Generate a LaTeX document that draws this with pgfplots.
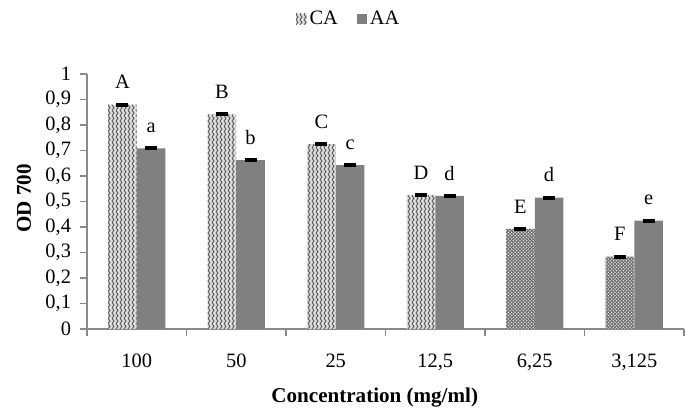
\documentclass[border=0pt]{standalone}
\usepackage{fontspec}
\setmainfont{Liberation Serif}
\usepackage{pgfplots}
\usepackage{pgfplotstable}
\pgfplotsset{compat=1.18}
\usetikzlibrary{patterns}

\definecolor{axisgray}{RGB}{137,137,137}
\definecolor{aagray}{RGB}{128,128,128}

\pgfdeclarepatternformonly{zigzagv}{\pgfqpoint{-0.5pt}{-0.5pt}}{\pgfqpoint{3.5pt}{4.5pt}}{\pgfqpoint{3pt}{4pt}}{%
  \pgfsetlinewidth{0.8pt}%
  \pgfpathmoveto{\pgfqpoint{0pt}{0pt}}%
  \pgfpathlineto{\pgfqpoint{1.5pt}{2pt}}%
  \pgfpathlineto{\pgfqpoint{0pt}{4pt}}%
  \pgfusepath{stroke}%
}
\pgfdeclarepatternformonly{finehatch}{\pgfqpoint{-0.5pt}{-0.5pt}}{\pgfqpoint{3pt}{3pt}}{\pgfqpoint{2.5pt}{2.5pt}}{%
  \pgfsetlinewidth{0.6pt}%
  \pgfpathmoveto{\pgfqpoint{0pt}{0pt}}%
  \pgfpathlineto{\pgfqpoint{2.5pt}{2.5pt}}%
  \pgfpathmoveto{\pgfqpoint{0pt}{2.5pt}}%
  \pgfpathlineto{\pgfqpoint{2.5pt}{0pt}}%
  \pgfusepath{stroke}%
}

\pgfplotstableread{
x y err lab
0 0.880 0.003 A
1 0.842 0.003 B
2 0.725 0.003 C
3 0.525 0.003 D
}\caA
\pgfplotstableread{
x y err lab
4 0.393 0.003 E
5 0.284 0.003 F
}\caB
\pgfplotstableread{
x y err lab
0 0.708 0.003 a
1 0.662 0.003 b
2 0.643 0.003 c
3 0.522 0.003 d
4 0.515 0.003 d
5 0.425 0.003 e
}\aa

\begin{document}
\begin{tikzpicture}
\useasboundingbox (-65.25pt,-60pt) rectangle (448.5pt,246.75pt);
\begin{axis}[
  at={(0,0)}, anchor=south west,
  scale only axis, width=447.75pt, height=191.25pt,
  font=\fontsize{15.3}{18}\selectfont,
  ymin=0, ymax=1, ytick={0,0.1,...,1.01},
  xmin=-0.5, xmax=5.5,
  ybar, bar width=21.5pt,
  axis x line*=bottom, axis y line*=left,
  axis line style={draw=axisgray, line width=0.9pt, -},
  tick style={draw=axisgray, line width=0.9pt},
  tick align=outside,
  major tick length=5pt,
  xtick={-0.5,0.5,...,5.6},
  xticklabels={},
  extra x ticks={0,1,2,3,4,5},
  extra x tick labels={100,50,25,{12,5},{6,25},{3,125}},
  extra x tick style={tick style={draw=none}},
  xticklabel style={yshift=-10.5pt},
  yticklabel style={xshift=-3.5pt},
  /pgf/number format/.cd, use comma, fixed, precision=1, assume math mode=true,
  /pgfplots/.cd,
  xlabel={\bfseries Concentration (mg/ml)},
  ylabel={\bfseries OD 700},
  xlabel style={at={(axis description cs:0.482,-0.268)}, anchor=center, font=\fontsize{15.8}{18}\selectfont},
  ylabel style={at={(axis description cs:-0.1055,0.512)}, anchor=center, font=\fontsize{15.8}{18}\selectfont},
  legend style={at={(0.439,1.216)}, anchor=center, draw=none, fill=none,
    legend columns=2, /tikz/every even column/.append style={column sep=12pt},
    font=\fontsize{15.3}{18}\selectfont},
  legend image code/.code={\fill[#1] (0pt,-4pt) rectangle (8pt,4pt);},
  nodes near coords,
  point meta=explicit symbolic,
  every node near coord/.append style={anchor=south, inner sep=0pt, yshift=11.5pt, font=\fontsize{15.3}{18}\selectfont, black},
  error bars/y dir=both, error bars/y explicit,
  error bars/error bar style={black, line width=1pt},
  error bars/error mark options={rotate=90, black, line width=1.8pt, mark size=4.5pt},
]
\addplot[bar shift=-10.75pt, draw=none, fill=gray!25,
  postaction={pattern=zigzagv, pattern color=black!60}]
  table[x=x, y=y, y error=err, meta=lab] {\caA};
\addlegendentry{CA}
\addplot[bar shift=10.75pt, draw=none, fill=aagray]
  table[x=x, y=y, y error=err, meta=lab] {\aa};
\addlegendentry{AA}
\addplot[forget plot, bar shift=-10.75pt, draw=none, fill=gray!25,
  postaction={pattern=finehatch, pattern color=black!60}]
  table[x=x, y=y, y error=err, meta=lab] {\caB};
\end{axis}
\end{tikzpicture}
\end{document}
